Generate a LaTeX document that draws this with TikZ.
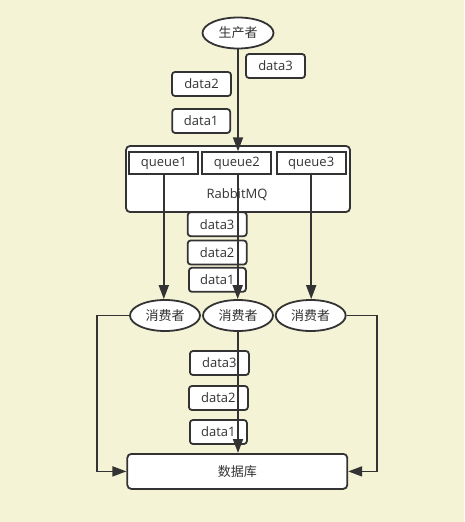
\documentclass[tikz,border=0pt]{standalone}
\usepackage{fontspec}
\setmainfont{Open Sans}
\newfontfamily\cjk{Noto Sans CJK SC}
\usetikzlibrary{shapes.geometric,arrows.meta}
\definecolor{bg}{RGB}{245,243,214}
\definecolor{ink}{RGB}{51,51,51}
\tikzset{
  base/.style={draw=ink, line width=1.8pt, fill=white, text=ink, font=\fontsize{13}{15}\selectfont, inner sep=0pt},
  databox/.style={base, rounded corners=3pt, minimum width=59pt, minimum height=24pt},
  queuebox/.style={base, minimum width=69pt, minimum height=22pt},
  bigbox/.style={base, rounded corners=4pt},
  oval/.style={base, ellipse, minimum width=71pt, minimum height=31pt, font=\cjk\fontsize{13}{15}\selectfont},
  conn/.style={draw=ink, line width=1.8pt},
  arr/.style={conn, -{Triangle[length=14pt,width=10pt]}},
}
\begin{document}
\begin{tikzpicture}[x=1pt,y=-1pt]
\fill[bg] (0,0) rectangle (464,522);
\useasboundingbox (0,0) rectangle (464,522);

% producer
\node[oval] (prod) at (238,33) {生产者};

% top data boxes
\node[databox] (d3t) at (275.5,66) {data3};
\node[databox] (d2t) at (201.5,84) {data2};
\node[databox, minimum width=58pt] (d1t) at (201.2,121) {data1};

% RabbitMQ
\node[bigbox, minimum width=224pt, minimum height=66pt] (mq) at (238,179) {};
\node[text=ink, font=\fontsize{13}{15}\selectfont, inner sep=0pt] (mqlabel) at (237,195) {RabbitMQ};
\node[queuebox] (q1) at (163.8,163.2) {queue1};
\node[queuebox] (q2) at (236.8,163.2) {queue2};
\node[queuebox] (q3) at (311.2,163.2) {queue3};

% middle data boxes
\node[databox] (d3m) at (217.2,224.2) {data3};
\node[databox] (d2m) at (217.2,252.5) {data2};
\node[databox, minimum width=57pt] (d1m) at (217.4,279.8) {data1};

% consumers
\node[oval, minimum width=70pt] (c1) at (165,315.5) {消费者};
\node[oval, minimum width=70pt] (c2) at (238,315.5) {消费者};
\node[oval, minimum width=70pt] (c3) at (310.7,315.5) {消费者};

% bottom data boxes
\node[databox] (d3b) at (219.4,363) {data3};
\node[databox] (d2b) at (218.4,398) {data2};
\node[databox, minimum width=57pt] (d1b) at (218.4,432) {data1};

% database
\node[bigbox, minimum width=220pt, minimum height=35pt, font=\cjk\fontsize{13}{15}\selectfont] (db) at (237.3,471.4) {数据库};

% connectors
\coordinate (lx) at (97.3,0);
\coordinate (rx) at (376.7,0);
\draw[arr] (prod.south) -- (prod.south |- q2.north);
\draw[arr] (q1.south) -- (q1.south |- c1.north);
\draw[arr] (237.7,0 |- q2.south) -- (237.7,0 |- c2.north);
\draw[arr] (q3.south) -- (q3.south |- c3.north);
\draw[arr] (c1.west) -| (lx |- db.west) -- (db.west);
\draw[arr] (c3.east) -| (rx |- db.east) -- (db.east);
\draw[arr] (c2.south) -- (c2.south |- db.north);
\end{tikzpicture}
\end{document}
